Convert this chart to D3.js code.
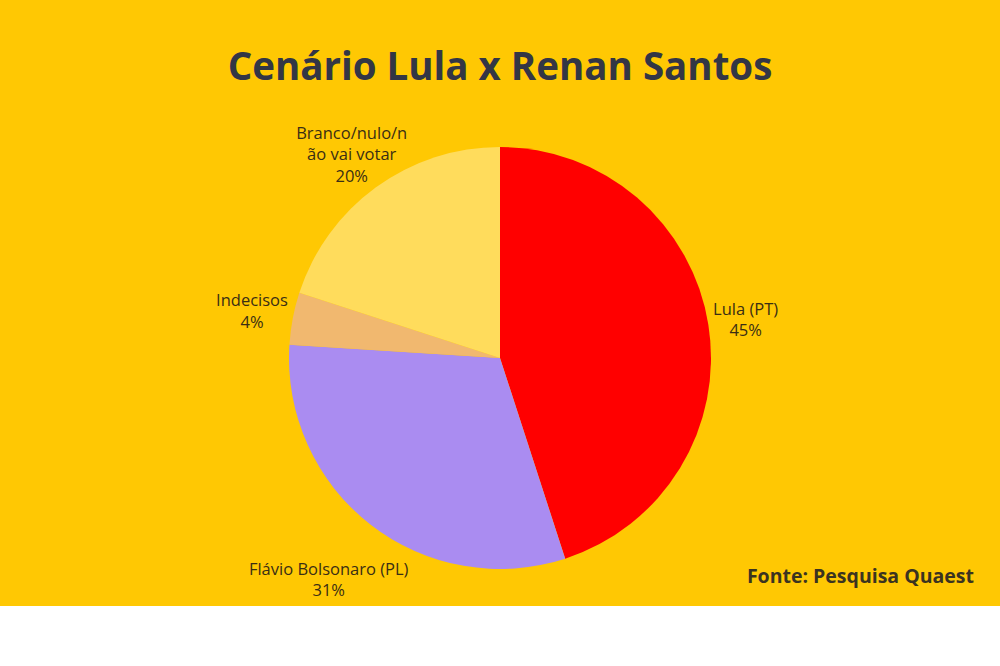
<!DOCTYPE html>
<html>
<head>
<meta charset="utf-8">
<script src="https://cdn.jsdelivr.net/npm/d3@7"></script>
<style>
  body { margin: 0; background: #fff; }
  svg text { font-family: "Open Sans", sans-serif; }
</style>
</head>
<body>
<div class="pie-chart"></div>
<script>
// slices, clockwise from 12 o'clock
const categories = ['Lula (PT)', 'Flávio Bolsonaro (PL)', 'Indecisos', 'Branco/nulo/não vai votar']
const labelLines = [['Lula (PT)'], ['Flávio Bolsonaro (PL)'], ['Indecisos'], ['Branco/nulo/n', 'ão vai votar']]
const values = [45, 31, 4, 20]
const colors = ['#ff0000', '#aa8cf1', '#f1b86f', '#ffdc5c']

const width = 1000
const height = 666
const radius = 211
const cx = 500, cy = 358

const svg = d3.select(".pie-chart").append("svg")
    .attr("width", width)
    .attr("height", height)

svg.append("rect")
    .attr("width", width)
    .attr("height", 606)
    .attr("fill", "#ffc803")

svg.append("text")
    .attr("x", width / 2)
    .attr("y", 80)
    .attr("text-anchor", "middle")
    .attr("font-size", 38.5)
    .attr("font-weight", 700)
    .attr("fill", "#333645")
    .text("Cenário Lula x Renan Santos")

svg.append("text")
    .attr("x", 974)
    .attr("y", 583)
    .attr("text-anchor", "end")
    .attr("font-size", 19.5)
    .attr("font-weight", 700)
    .attr("fill", "#3b3320")
    .text("Fonte: Pesquisa Quaest")

const data = categories.map((c, i) => ({name: c, value: values[i], lines: labelLines[i], color: colors[i]}))

const pie = d3.pie().value(d => d.value).sort(null)
const arc = d3.arc().innerRadius(0).outerRadius(radius)

const g = svg.append("g").attr("transform", `translate(${cx},${cy})`)

const arcs = pie(data)

g.selectAll("path")
    .data(arcs)
    .join("path")
        .attr("d", arc)
        .attr("fill", d => d.data.color)

// labels outside, pushed out along the slice's mid angle by the box size
const labels = g.selectAll("g.label")
    .data(arcs)
    .join("g")
        .attr("class", "label")

labels.each(function(d) {
    const t = d3.select(this).append("text")
        .attr("text-anchor", "middle")
        .attr("font-size", 16.5)
        .attr("fill", "#3a2e14")
    const lines = d.data.lines.concat([d.data.value + "%"])
    lines.forEach((l, i) => {
        t.append("tspan")
            .attr("x", 0)
            .attr("dy", i === 0 ? 0 : "1.3em")
            .text(l)
    })
    const bb = t.node().getBBox()
    t.attr("transform", `translate(0,${-(bb.y + bb.height / 2)})`)
    const mid = (d.startAngle + d.endAngle) / 2
    const ux = Math.sin(mid), uy = -Math.cos(mid)
    const proj = Math.abs(ux) * bb.width / 2 + Math.abs(uy) * bb.height / 2
    // the 3-line label sits closer, its short last line leaves the corner free
    const r = radius + proj + (lines.length > 2 ? -18 : 2)
    d3.select(this).attr("transform", `translate(${ux * r},${uy * r})`)
})
</script>
</body>
</html>
